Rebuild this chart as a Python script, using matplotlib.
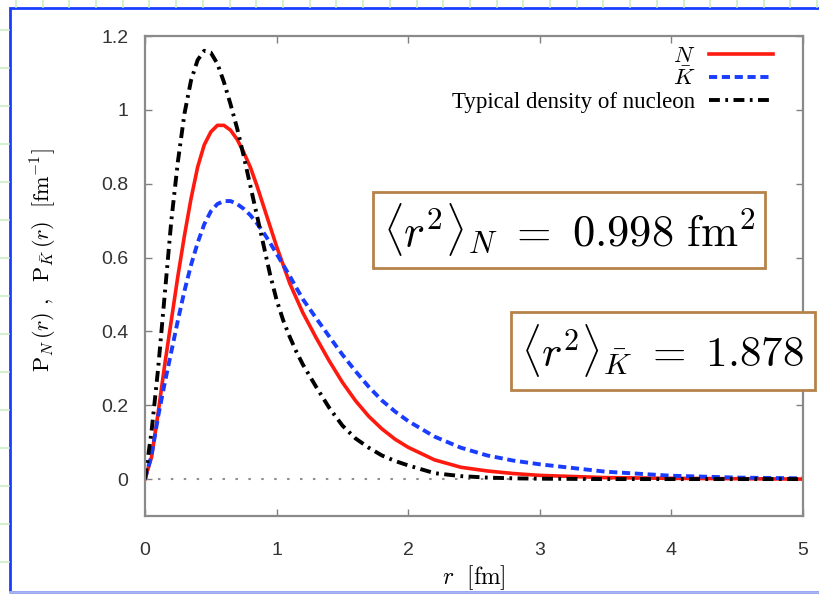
import numpy as np
import matplotlib
matplotlib.use("Agg")
import matplotlib.pyplot as plt
from matplotlib.lines import Line2D
from matplotlib.patches import Rectangle

plt.rcParams['mathtext.fontset'] = 'cm'

# values
r = [0, 0.05, 0.1, 0.15, 0.2, 0.25, 0.3, 0.35, 0.4, 0.45, 0.5, 0.55, 0.6, 0.65, 0.7, 0.75,
     0.8, 0.85, 0.9, 0.95, 1.0, 1.05, 1.1, 1.15, 1.2,
     1.3, 1.4, 1.5, 1.6, 1.7, 1.8, 1.9, 2.0,
     2.2, 2.4, 2.6, 2.8, 3.0, 3.5, 4.0, 4.5, 5.0]
p_N = [0, 0.06, 0.18, 0.31, 0.43, 0.55, 0.66, 0.76, 0.845, 0.905, 0.94, 0.958, 0.958, 0.945, 0.92, 0.885,
       0.845, 0.795, 0.74, 0.685, 0.63, 0.58, 0.53, 0.49, 0.45,
       0.383, 0.32, 0.262, 0.212, 0.17, 0.136, 0.108, 0.086,
       0.052, 0.032, 0.022, 0.015, 0.01, 0.004, 0.002, 0.001, 0.0]
p_K = [0, 0.065, 0.17, 0.26, 0.345, 0.43, 0.51, 0.58, 0.64, 0.69, 0.725, 0.745, 0.753, 0.753, 0.745, 0.732,
       0.715, 0.693, 0.668, 0.64, 0.61, 0.58, 0.55, 0.518, 0.487,
       0.436, 0.386, 0.337, 0.292, 0.25, 0.213, 0.183, 0.157,
       0.115, 0.085, 0.064, 0.05, 0.04, 0.02, 0.009, 0.004, 0.002]
p_typ = [0, 0.13, 0.30, 0.50, 0.70, 0.86, 0.99, 1.08, 1.135, 1.16, 1.155, 1.125, 1.075, 1.015, 0.95, 0.875,
         0.795, 0.715, 0.635, 0.555, 0.485, 0.43, 0.385, 0.345, 0.31,
         0.25, 0.193, 0.145, 0.11, 0.085, 0.064, 0.049, 0.037,
         0.016, 0.008, 0.004, 0.002, 0.001, 0.0, 0.0, 0.0, 0.0]

xticks = [0, 1, 2, 3, 4, 5]
yticks = [0, 0.2, 0.4, 0.6, 0.8, 1.0, 1.2]
ytick_labels = ["0", "0.2", "0.4", "0.6", "0.8", "1", "1.2"]

fig = plt.figure(figsize=(8.2, 5.94), dpi=100)

# graph-paper background and blue frame
for gx in np.arange(16, 820, 26.7):
    fig.add_artist(Line2D([gx / 820, gx / 820], [1 - 7 / 594, 1.0], color='#c8f0c0', lw=1.2))
for gy in np.arange(30, 594, 38):
    fig.add_artist(Line2D([0, 9 / 820], [1 - gy / 594, 1 - gy / 594], color='#c8f0c0', lw=1.2))
fig.add_artist(Rectangle((10 / 820, 2 / 594), 1.2, 1 - 10 / 594, transform=fig.transFigure,
                         fill=False, ec='#1a3cff', lw=2))
fig.add_artist(Line2D([10 / 820, 1], [2 / 594, 2 / 594], color='#a8b4f0', lw=2))

ax = fig.add_axes([145 / 820, 78 / 594, 658 / 820, 480 / 594])
ax.axhline(0, color='#909090', lw=1.5, ls=(0, (1.2, 5)))
ax.plot(r, p_N, color='#ff1a10', lw=2.6, label=r'$N$')
ax.plot(r, p_K, color='#1a3cff', lw=2.8, ls=(0, (2.1, 1.2)), label=r'$\bar{K}$')
ax.plot(r, p_typ, color='black', lw=2.8, ls=(0, (2.8, 1.4, 0.7, 1.4)),
        label='Typical density of nucleon')

ax.set_xlim(0, 5)
ax.set_ylim(-0.1, 1.2)
ax.set_xticks(xticks)
ax.set_xticklabels([str(t) for t in xticks], family='Liberation Sans')
ax.set_yticks(yticks)
ax.set_yticklabels(ytick_labels, family='Liberation Sans')
ax.tick_params(direction='in', top=True, right=True, length=5, width=1, color='#808080',
               labelsize=14, labelcolor='#333333')
ax.tick_params(axis='x', pad=19)
ax.tick_params(axis='y', pad=12)
for s in ax.spines.values():
    s.set_color('#8a8a8a')
    s.set_linewidth(1.6)

ax.set_xlabel(r'$r\ \ [\mathrm{fm}]$', fontsize=17, labelpad=3)
ax.set_ylabel(r'$\mathrm{P}_N\,(r)\ ,\ \ \mathrm{P}_{\bar{K}}\,(r)\ \ [\mathrm{fm}^{-1}]$',
              fontsize=16)
ax.yaxis.set_label_coords(-0.13, 0.533)

leg = ax.legend(loc='upper right', bbox_to_anchor=(0.955, 0.98), frameon=False,
                markerfirst=False, handlelength=2.8, labelspacing=0.05, borderpad=0,
                borderaxespad=0, handletextpad=0.6,
                prop={'family': 'Liberation Serif', 'size': 16.5})

ax.text(0.362, 0.596, r'$\langle r^2\rangle_N\ =\ 0.998\ \mathrm{fm}^2$', transform=ax.transAxes,
        fontsize=32, ha='left', va='center', zorder=5,
        bbox=dict(boxstyle='square,pad=0.22', fc='white', ec='#b5834a', lw=2))
ax.text(0.572, 0.344, r'$\langle r^2\rangle_{\bar{K}}\ =\ 1.878$', transform=ax.transAxes,
        fontsize=31, ha='left', va='center', zorder=5, clip_on=False,
        bbox=dict(boxstyle='square,pad=0.25', fc='white', ec='#b5834a', lw=2))

fig.savefig("out.png", dpi=100)
